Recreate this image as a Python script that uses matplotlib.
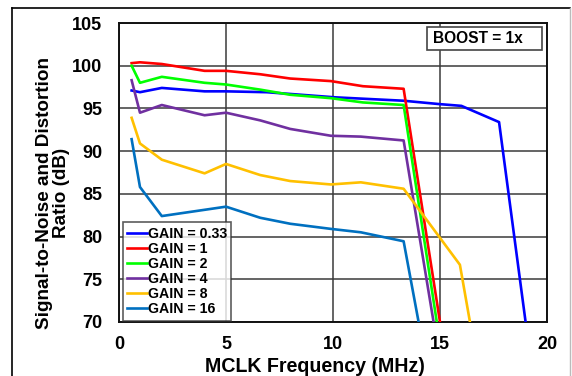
import matplotlib
matplotlib.use("Agg")
import matplotlib.pyplot as plt
from matplotlib.lines import Line2D
from matplotlib.patches import Rectangle

plt.rcParams['font.family'] = ['Liberation Sans', 'DejaVu Sans']
plt.rcParams['font.weight'] = 'bold'

labels = ["GAIN = 0.33", "GAIN = 1", "GAIN = 2", "GAIN = 4", "GAIN = 8", "GAIN = 16"]
colors = ["#0000FF", "#FF0000", "#00FF00", "#7030A0", "#FFC000", "#0070C0"]

x_g033 = [0.59, 0.98, 2.0, 4.0, 5.0, 6.9, 10.1, 13.3, 15.0, 16.0, 17.76, 19.0]
y_g033 = [97.1, 96.9, 97.4, 97.0, 97.0, 96.9, 96.3, 95.9, 95.5, 95.3, 93.4, 70.0]

x_g1 = [0.59, 0.98, 2.0, 4.0, 5.0, 6.6, 8.0, 9.9, 11.4, 13.3, 15.0]
y_g1 = [100.3, 100.4, 100.2, 99.4, 99.4, 99.0, 98.5, 98.2, 97.6, 97.3, 70.0]

x_g2 = [0.59, 0.98, 2.0, 4.0, 5.0, 6.6, 8.0, 9.9, 11.4, 13.3, 14.85]
y_g2 = [100.0, 98.0, 98.7, 98.0, 97.8, 97.2, 96.6, 96.2, 95.7, 95.4, 70.0]

x_g4 = [0.59, 0.98, 2.0, 4.0, 5.0, 6.6, 8.0, 9.9, 11.3, 13.3, 14.7]
y_g4 = [98.3, 94.5, 95.4, 94.2, 94.5, 93.6, 92.6, 91.8, 91.7, 91.25, 70.0]

x_g8 = [0.59, 0.98, 2.0, 4.0, 5.0, 6.6, 8.0, 9.9, 11.3, 13.3, 15.93, 16.4]
y_g8 = [93.9, 90.9, 89.0, 87.4, 88.5, 87.2, 86.5, 86.1, 86.35, 85.6, 76.7, 70.0]

x_g16 = [0.59, 0.98, 2.0, 5.0, 6.6, 8.0, 9.9, 11.3, 13.3, 14.0]
y_g16 = [91.4, 85.8, 82.4, 83.5, 82.2, 81.5, 80.9, 80.5, 79.45, 70.0]

xs = [x_g033, x_g1, x_g2, x_g4, x_g8, x_g16]
ys = [y_g033, y_g1, y_g2, y_g4, y_g8, y_g16]

x_ticks = [0, 5, 10, 15, 20]
y_ticks = [70, 75, 80, 85, 90, 95, 100, 105]

fig = plt.figure(figsize=(5.72, 3.76), dpi=100)
ax = fig.add_axes([119/572, 1-322/376, (547-119)/572, (322-23)/376])

for xv, yv, c, l in zip(xs, ys, colors, labels):
    ax.plot(xv, yv, color=c, lw=1.9, label=l, zorder=3, clip_on=True)

ax.set_xlim(0, 20)
ax.set_ylim(70, 105)
ax.set_xticks(x_ticks)
ax.set_yticks(y_ticks)
ax.tick_params(axis='y', length=0, labelsize=13, pad=12)
ax.tick_params(axis='x', length=0, labelsize=13, pad=10)
for t in ax.get_xticklabels() + ax.get_yticklabels():
    t.set_fontweight('bold')
ax.grid(True, color='#3a3a3a', lw=1.1, zorder=1)
for s in ax.spines.values():
    s.set_color('#111111')
    s.set_linewidth(1.4)

ax.set_xlabel("MCLK Frequency (MHz)", fontsize=14.1, fontweight='bold')
ax.xaxis.set_label_coords((315 - 119) / 428, (322 - 366) / 299)
ax.xaxis.label.set_verticalalignment('center')
ax.set_ylabel("Signal-to-Noise and Distortion\nRatio (dB)", fontsize=13.6,
              fontweight='bold', linespacing=1.0)
ax.yaxis.set_label_coords((53 - 119) / 428, (322 - 193) / 299)
ax.yaxis.label.set_verticalalignment('center')

leg = ax.legend(loc='lower left', bbox_to_anchor=(0.006, 0.0), fontsize=10.2,
                handlelength=1.4, handletextpad=0.05, borderpad=0.3,
                labelspacing=0.08, frameon=True, fancybox=False, borderaxespad=0.1)
leg.get_frame().set_edgecolor('#333333')
leg.get_frame().set_linewidth(1.2)
for t in leg.get_texts():
    t.set_fontweight('bold')

ax.add_patch(Rectangle((0.719, 0.9097), 0.989 - 0.719, 0.9856 - 0.9097,
                       transform=ax.transAxes, fc='white', ec='#444444', lw=1.2,
                       zorder=5))
ax.text(0.733, 0.9475, "BOOST = 1x", transform=ax.transAxes, ha='left', va='center',
        fontsize=11.2, fontweight='bold', zorder=6)

# figure border
fig.add_artist(Line2D([12/572, 12/572], [0, 1-8/376], color='black', lw=1.2))
fig.add_artist(Line2D([12/572, 570/572], [1-8/376, 1-8/376], color='black', lw=1.2))
fig.add_artist(Line2D([570/572, 570/572], [0, 1-8/376], color='#bbbbbb', lw=1.0))

fig.savefig("out.png", dpi=100)
